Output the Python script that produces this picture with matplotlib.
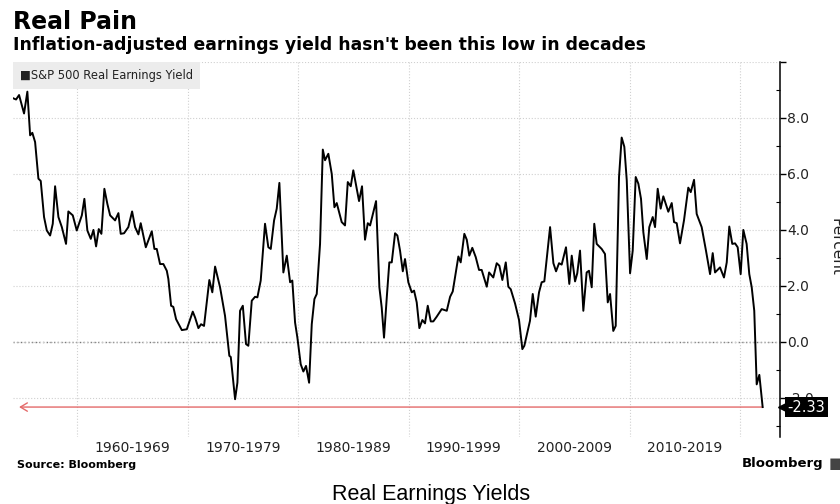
import matplotlib
matplotlib.use("Agg")
from matplotlib import pyplot as plt
from matplotlib import ticker, transforms

# S&P 500 real earnings yield (year, percent)
years = [
    1954.24, 1954.48, 1954.75, 1955.20, 1955.50, 1955.75, 1955.95, 1956.20, 1956.50, 1956.71,
    1957.01, 1957.26, 1957.56, 1957.80, 1958.01, 1958.31, 1958.62, 1959.00, 1959.21, 1959.61,
    1959.97, 1960.43, 1960.66, 1960.93, 1961.24, 1961.48, 1961.72, 1961.96, 1962.20, 1962.47,
    1962.74, 1962.99, 1963.44, 1963.74, 1963.95, 1964.25, 1964.64, 1964.98, 1965.25, 1965.55,
    1965.76, 1966.22, 1966.76, 1967.00, 1967.21, 1967.51, 1967.81, 1968.12, 1968.26, 1968.51,
    1968.71, 1968.96, 1969.48, 1969.93, 1970.47, 1970.68, 1970.98, 1971.22, 1971.49, 1971.97,
    1972.24, 1972.49, 1972.94, 1973.39, 1973.78, 1973.91, 1974.30, 1974.51, 1974.75, 1975.00,
    1975.29, 1975.50, 1975.81, 1976.11, 1976.32, 1976.62, 1977.01, 1977.31, 1977.53, 1977.83,
    1978.07, 1978.31, 1978.67, 1978.98, 1979.28, 1979.48, 1979.73, 1979.94, 1980.24, 1980.48,
    1980.72, 1981.00, 1981.24, 1981.48, 1981.69, 1981.99, 1982.24, 1982.44, 1982.74, 1983.05,
    1983.29, 1983.50, 1983.95, 1984.25, 1984.50, 1984.77, 1985.00, 1985.52, 1985.79, 1986.06,
    1986.31, 1986.52, 1987.06, 1987.36, 1987.57, 1987.78, 1988.03, 1988.26, 1988.48, 1988.78,
    1988.99, 1989.23, 1989.48, 1989.68, 1989.98, 1990.29, 1990.50, 1990.74, 1990.98, 1991.25,
    1991.49, 1991.74, 1992.01, 1992.24, 1992.55, 1993.00, 1993.46, 1993.76, 1994.00, 1994.51,
    1994.72, 1995.05, 1995.27, 1995.50, 1995.77, 1996.08, 1996.38, 1996.62, 1997.08, 1997.29,
    1997.67, 1997.98, 1998.22, 1998.49, 1998.80, 1999.03, 1999.25, 1999.64, 2000.00, 2000.30,
    2000.48, 2000.99, 2001.24, 2001.51, 2001.81, 2002.05, 2002.29, 2002.81, 2003.11, 2003.35,
    2003.62, 2003.86, 2004.25, 2004.55, 2004.77, 2005.07, 2005.27, 2005.52, 2005.82, 2006.12,
    2006.33, 2006.58, 2006.81, 2007.03, 2007.48, 2007.78, 2008.03, 2008.24, 2008.53, 2008.75,
    2009.05, 2009.29, 2009.53, 2009.75, 2010.05, 2010.29, 2010.56, 2010.80, 2011.04, 2011.25,
    2011.56, 2011.79, 2012.10, 2012.31, 2012.55, 2012.82, 2013.06, 2013.51, 2013.82, 2014.03,
    2014.27, 2014.57, 2014.93, 2015.32, 2015.54, 2015.84, 2016.08, 2016.53, 2016.92, 2017.29,
    2017.53, 2017.74, 2018.19, 2018.55, 2018.80, 2019.03, 2019.30, 2019.55, 2019.79, 2020.06,
    2020.30, 2020.60, 2020.84, 2021.06, 2021.29, 2021.51, 2021.75, 2022.05,
]
real_yield = [
    8.70, 8.66, 8.82, 8.16, 8.94, 7.38, 7.47, 7.14, 5.83, 5.75,
    4.46, 3.98, 3.80, 4.22, 5.56, 4.46, 4.10, 3.50, 4.66, 4.52,
    3.98, 4.52, 5.11, 3.98, 3.68, 4.00, 3.41, 4.03, 3.86, 5.47,
    4.93, 4.52, 4.34, 4.60, 3.86, 3.88, 4.10, 4.66, 4.10, 3.84,
    4.24, 3.38, 3.95, 3.32, 3.32, 2.78, 2.78, 2.54, 2.25, 1.29,
    1.25, 0.81, 0.42, 0.45, 1.08, 0.87, 0.49, 0.63, 0.57, 2.21,
    1.77, 2.69, 1.95, 0.93, -0.50, -0.54, -2.05, -1.46, 1.11, 1.29,
    -0.08, -0.14, 1.47, 1.61, 1.59, 2.19, 4.22, 3.38, 3.32, 4.34,
    4.76, 5.68, 2.48, 3.08, 2.13, 2.19, 0.69, 0.15, -0.80, -1.06,
    -0.86, -1.46, 0.63, 1.53, 1.71, 3.50, 6.87, 6.49, 6.72, 6.00,
    4.81, 4.96, 4.28, 4.16, 5.71, 5.56, 6.13, 5.03, 5.56, 3.65,
    4.24, 4.16, 5.03, 1.95, 1.23, 0.15, 1.59, 2.84, 2.84, 3.88,
    3.80, 3.26, 2.52, 2.96, 2.13, 1.77, 1.83, 1.41, 0.49, 0.78,
    0.66, 1.29, 0.73, 0.73, 0.90, 1.17, 1.11, 1.61, 1.80, 3.05,
    2.84, 3.86, 3.65, 3.08, 3.36, 3.03, 2.57, 2.57, 1.97, 2.48,
    2.30, 2.81, 2.72, 2.21, 2.84, 1.97, 1.88, 1.37, 0.78, -0.26,
    -0.14, 0.75, 1.71, 0.90, 1.77, 2.13, 2.16, 4.10, 2.81, 2.52,
    2.81, 2.76, 3.38, 2.07, 3.08, 2.16, 2.45, 3.26, 1.11, 2.48,
    2.54, 1.95, 4.22, 3.50, 3.32, 3.14, 1.41, 1.71, 0.39, 0.57,
    5.89, 7.30, 6.97, 5.77, 2.45, 3.26, 5.89, 5.65, 5.11, 3.92,
    2.96, 4.10, 4.46, 4.10, 5.47, 4.76, 5.20, 4.65, 4.96, 4.28,
    4.24, 3.52, 4.34, 5.51, 5.35, 5.79, 4.57, 4.10, 3.26, 2.42,
    3.17, 2.48, 2.66, 2.30, 2.84, 4.12, 3.50, 3.52, 3.38, 2.42,
    4.00, 3.50, 2.42, 1.95, 1.11, -1.52, -1.18, -2.33,
]

decade_starts = [1960, 1970, 1980, 1990, 2000, 2010, 2020]
decade_labels = ["1960-1969", "1970-1979", "1980-1989", "1990-1999", "2000-2009", "2010-2019"]

fig = plt.figure(figsize=(8.4, 5.04), dpi=100)
ax = fig.add_axes([13 / 840, 67 / 504, 767 / 840, 375 / 504])

ax.plot(years, real_yield, color="black", lw=1.4, zorder=3)

ax.set_xlim(1954.2, 2023.62)
ax.set_ylim(-3.4, 10)

for side in ["left", "top", "bottom"]:
    ax.spines[side].set_visible(False)
ax.spines["right"].set_linewidth(1.1)

# y axis on the right
ax.yaxis.tick_right()
ax.yaxis.set_major_locator(ticker.FixedLocator([-2, 0, 2, 4, 6, 8, 10]))
ax.yaxis.set_minor_locator(ticker.FixedLocator([-3, -1, 1, 3, 5, 7, 9]))
ax.yaxis.set_major_formatter(ticker.FuncFormatter(lambda v, _: "" if v >= 10 else f"{v:.1f}"))
ax.tick_params(axis="y", which="major", direction="out", length=4, width=1, pad=1,
               labelsize=10, labelcolor="#222222")
ax.tick_params(axis="y", which="minor", direction="in", length=3, width=0.8)

# decades: gridlines at decade starts, labels in between
ax.xaxis.set_major_locator(ticker.FixedLocator(decade_starts))
ax.xaxis.set_major_formatter(ticker.NullFormatter())
ax.xaxis.set_minor_locator(ticker.FixedLocator([d + 5 for d in decade_starts[:-1]]))
ax.xaxis.set_minor_formatter(ticker.FixedFormatter(decade_labels))
ax.tick_params(axis="x", which="both", length=0, pad=3, labelsize=10, labelcolor="#222222")

ax.grid(True, which="major", color="#d0d0d0", lw=0.8, ls=":")
ax.axhline(0, color="#777777", lw=1, ls=":", zorder=1)

# red reference line at the latest value
last_year, last_val = years[-1], real_yield[-1]
ax.annotate("", xy=(1954.75, last_val), xytext=(last_year, last_val),
            arrowprops=dict(arrowstyle="->,head_length=0.5,head_width=0.3",
                            color="#e46a6a", lw=1, shrinkA=0, shrinkB=0), zorder=2)

# value tag on the axis
tag_tr = transforms.offset_copy(ax.get_yaxis_transform(), fig=fig, x=5, y=0, units="points")
ax.plot([1.0], [last_val], marker="<", ms=13, color="black", transform=tag_tr,
        clip_on=False, zorder=5)
ax.annotate(f"{last_val:.2f}", xy=(1.0, last_val), xycoords=("axes fraction", "data"),
            xytext=(5.5, 0), textcoords="offset points", ha="left", va="center",
            color="white", fontsize=10.5, zorder=6, annotation_clip=False,
            bbox=dict(boxstyle="square,pad=0.15", fc="black", ec="none"))

# legend box
ax.annotate("\u25a0S&P 500 Real Earnings Yield", xy=(0, 1), xycoords="axes fraction",
            xytext=(5.2, -5), textcoords="offset points", ha="left", va="top",
            fontsize=8.3, color="#222222", zorder=6,
            bbox=dict(boxstyle="square,pad=0.6", fc="#ececec", ec="none"))

fig.text(0.995, 0.51, "Percent", rotation=270, ha="center", va="center", fontsize=11,
         color="#222222")

fig.text(13 / 840, 1 - 29 / 504, "Real Pain", fontsize=17, weight="bold", va="baseline")
fig.text(13 / 840, 1 - 49.5 / 504,
         "Inflation-adjusted earnings yield hasn't been this low in decades",
         fontsize=12.4, weight="bold", va="baseline")
fig.text(17 / 840, 1 - 468 / 504, "Source: Bloomberg", fontsize=8, weight="bold",
         va="baseline")
fig.text(742 / 840, 1 - 467 / 504, "Bloomberg", fontsize=9.5, weight="bold", va="baseline")
fig.text(829 / 840, 1 - 468 / 504, "\u25a0", fontsize=11, color="#444444", va="baseline")
fig.text(431 / 840, 1 - 500 / 504, "Real Earnings Yields", fontsize=15.5,
         family="Liberation Sans", ha="center", va="baseline")

fig.savefig("out.png", dpi=100)
